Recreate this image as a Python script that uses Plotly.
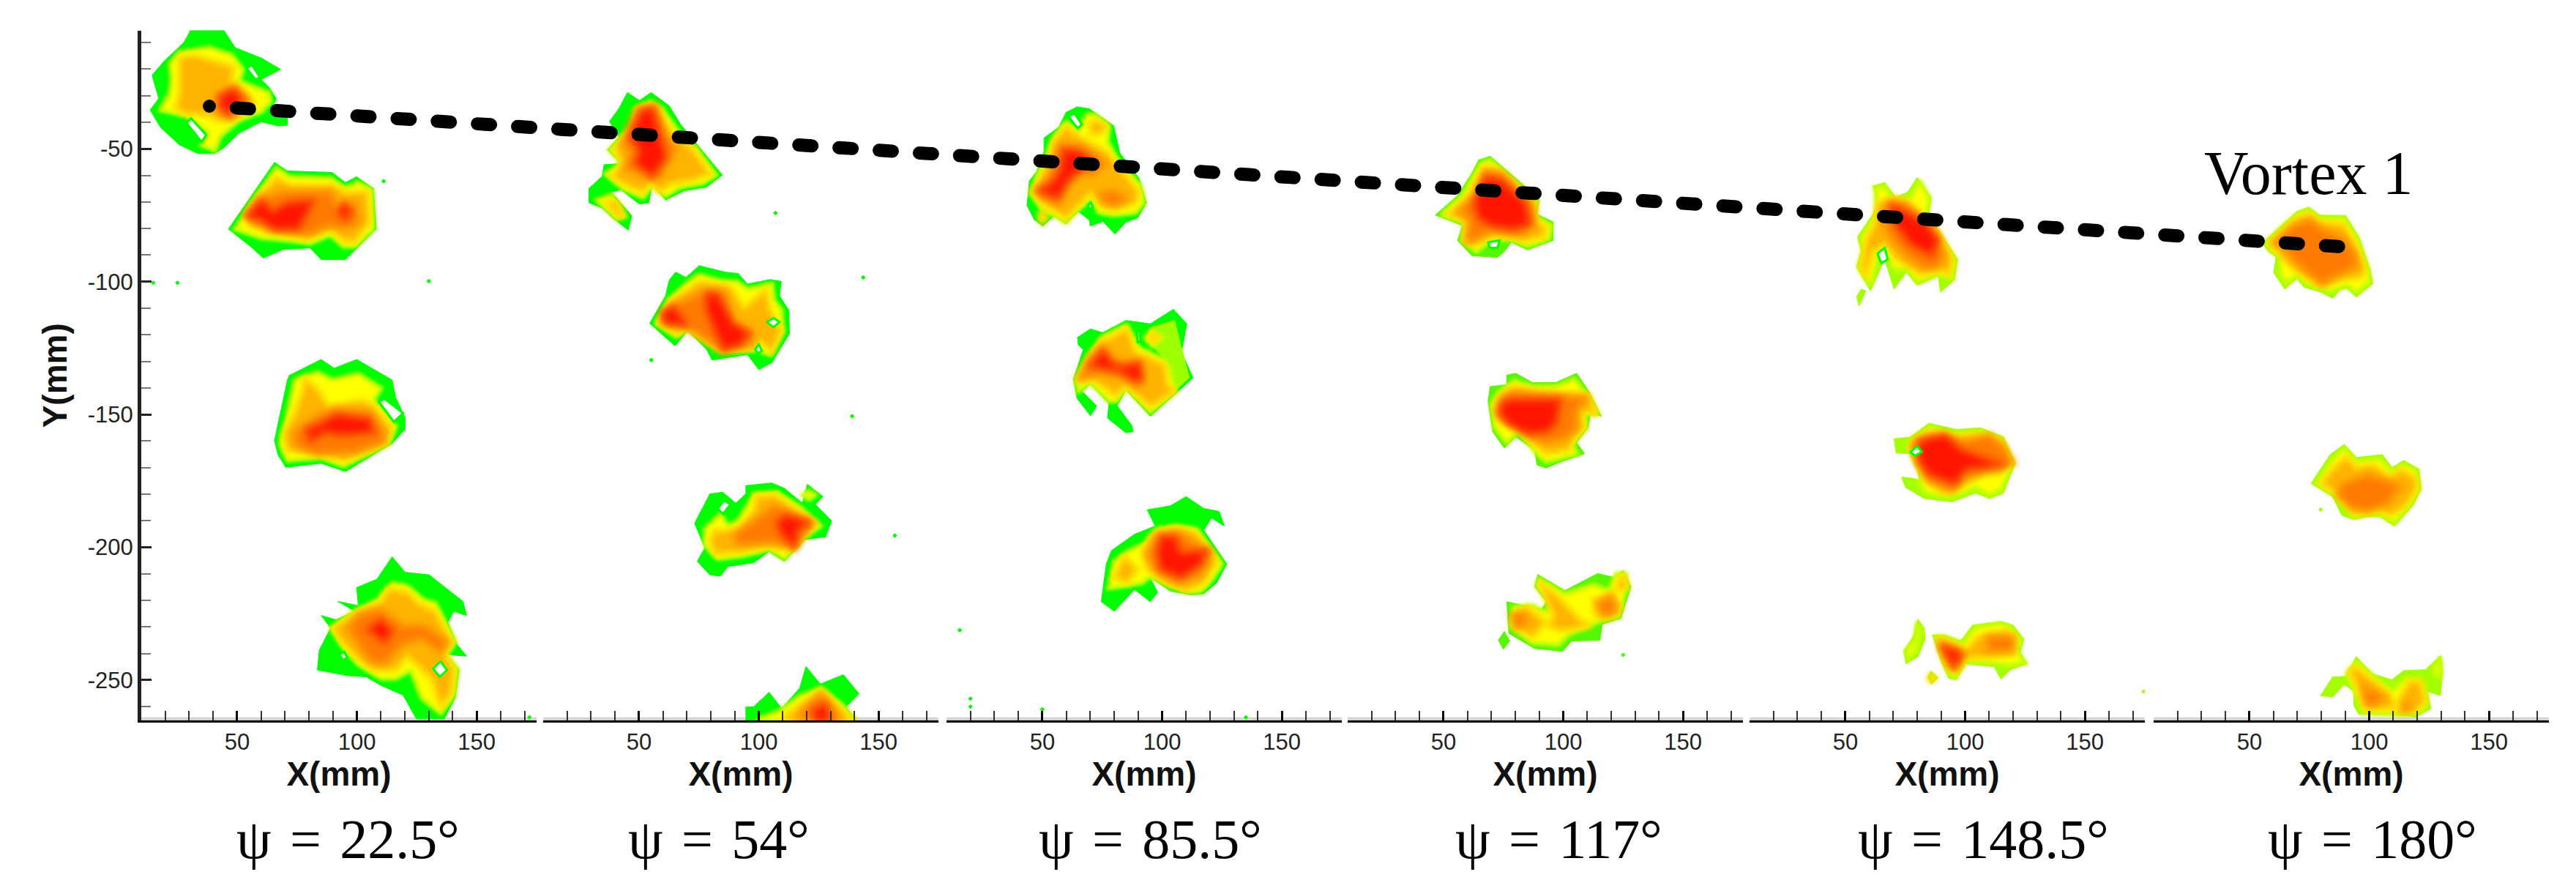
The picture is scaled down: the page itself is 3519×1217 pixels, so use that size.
import plotly.graph_objects as go

FIG_W, FIG_H = 3519, 1217

PANEL_LEFT = [193, 742, 1293, 1841, 2390, 2942]
PANEL_WIDTH = 540
PLOT_TOP, PLOT_BOTTOM = 41.5, 984.0

X_RANGE = [10, 175]
Y_RANGE = [-265.2, -5.4]
X_TICKS = [50, 100, 150]
Y_TICKS = [-50, -100, -150, -200, -250]
Y_TICK_TEXT = ["-50", "-100", "-150", "-200", "-250"]

PSI_TEXT = [
    "ψ\u2004=\u200422.5°",
    "ψ\u2004=\u200454°",
    "ψ\u2004=\u200485.5°",
    "ψ\u2004=\u2004117°",
    "ψ\u2004=\u2004148.5°",
    "ψ\u2004=\u2004180°",
]
PSI_X = [96.4, 83.3, 95.0, 98.2, 107.7, 101.3]

# vortex 1 path, read in page pixels because it crosses all six panels
TRACK_X = [286, 497, 717, 1100, 1483, 1813, 2304, 2744, 3200]
TRACK_Y = [145, 159, 173.6, 198.6, 224.6, 246, 279.5, 307.5, 337]

# contour outlines in mm, one list per panel and level
p1_outer = [
    [(29.0, -8.1), (30.5, -5.4), (44.5, -5.4), (49.2, -11.9), (60.1, -15.8), (68.2, -20.1), (60.1, -23.9), (63.2, -26.7), (66.4, -31.1), (64.0, -35.4), (71, -37.6), (71, -41.1), (67.1, -41.4), (60.1, -39.8), (50.8, -44.1), (44.5, -49.6), (40.7, -51.8), (33.6, -51.8), (25.9, -48.5), (18.1, -42), (13.7, -35.4), (17.3, -31), (14.5, -22.3), (19.6, -16.9), (27.4, -10.3)],
    [(65.6, -55.1), (71, -58.3), (89.7, -58.9), (95.2, -62.7), (99.9, -60.5), (106.9, -64.9), (108.1, -80.2), (95.2, -91.7), (85.1, -91.7), (80.4, -87.3), (69.5, -87.8), (60.9, -91.1), (55.5, -86.7), (46.4, -80.2), (53.9, -70.4), (63.2, -58.3)],
    [(71.8, -135.3), (85.1, -129.3), (90.5, -132.6), (99.9, -129.3), (114.7, -137), (116.2, -143.5), (120.1, -151.2), (120.1, -155.5), (114.7, -161), (95.2, -171.5), (85.1, -168.4), (70.3, -169.9), (67.1, -165.2), (65.6, -159.9), (71, -137)],
    [(114.7, -203.6), (120.1, -209.4), (130.2, -210.4), (144.3, -220.4), (145.8, -225.7), (140.4, -224.1), (138, -228.3), (141.9, -236.7), (145.8, -241), (137.2, -240.4), (142.7, -246.2), (141.1, -256.7), (136.5, -264.6), (124.8, -264.6), (119.3, -255.7), (110, -252), (103.8, -248.8), (96, -248.3), (83.5, -246.2), (84.3, -238.8), (89, -230.4), (85.1, -225.7), (91.3, -227.3), (99.1, -224.1), (92.1, -220.4), (100.6, -222), (99.9, -215.2), (108.4, -212)],
]
p1_yellow = [
    [(22, -18), (25.9, -13.6), (38.3, -11.9), (47.7, -14.7), (52.4, -20.1), (50.8, -24.5), (63.2, -28.9), (64, -32.1), (60.1, -36), (50.8, -39.2), (43, -45.2), (40.7, -50.7), (35.2, -48.5), (38.3, -44.1), (29, -37.6), (24.3, -36.5), (18.1, -35.4), (22, -28.9), (22.7, -23.4)],
    [(66.4, -57.3), (71.8, -60.5), (89, -61.1), (95.2, -64.9), (100.6, -62.7), (106.1, -65.4), (106.9, -80.2), (99.1, -86.7), (94.4, -86.7), (89, -82.4), (80.4, -85.6), (72.6, -84.6), (60.1, -83.5), (49.2, -80.2), (55.5, -71.4), (64, -60.5)],
    [(74.2, -137), (83.5, -134.2), (89.7, -137), (100.6, -134.8), (110, -140.2), (106.9, -144.6), (116.2, -154.4), (113.1, -161), (94.4, -169.4), (85.1, -166.3), (71, -167.3), (68, -161), (71.8, -146.8)],
    [(114.7, -213.6), (120.9, -214.6), (127.9, -219.9), (132.6, -221), (141.1, -235.7), (137.2, -240.4), (141.9, -245.7), (140.4, -255.7), (135, -262.5), (127.1, -256.7), (122.5, -246.2), (116.2, -249.4), (110, -249.4), (100.6, -244.1), (94.4, -237.8), (89.7, -230.4), (99.1, -224.1), (108.4, -219.9)],
]
p1_orange = [
    [(25.9, -15.8), (32.1, -14.7), (39.9, -16.8), (48.4, -19), (47.7, -25.6), (53.9, -28.9), (57, -33.2), (50.8, -37.6), (43, -39.8), (38.3, -37.6), (27.4, -36.5), (24.3, -34.3), (25.9, -28.9), (25.9, -22.3)],
    [(66.4, -60.5), (72.6, -63.8), (89.7, -63.8), (96, -66.5), (104.5, -66), (105.3, -77.1), (99.1, -85.1), (94.4, -84.6), (89, -80.2), (78.8, -83.5), (64.8, -81.3), (55.5, -79.1), (53.9, -74.7), (58.6, -68.2)],
    [(78.1, -136), (83.5, -140.2), (88.2, -146.8), (102.2, -144.6), (106.9, -146.8), (114.7, -155.5), (111.5, -161), (94.4, -167.3), (85.1, -163.8), (71, -163.8), (69.5, -157.7), (74.2, -149), (77.3, -141.3)],
    [(113.1, -215.7), (120.9, -216.8), (125.6, -221), (132.6, -224.1), (139.6, -235.7), (136.5, -239.9), (140.4, -246.2), (139.6, -254.6), (135, -260.4), (131.1, -249.4), (120.9, -241), (116.2, -246.2), (106.9, -246.2), (99.1, -240.9), (92.8, -234.6), (89.7, -230.4), (99.1, -225.2), (110, -220.9)],
]
p1_deep = [
    [(40.7, -30), (49.2, -26.1), (54.7, -31.6), (47.7, -38.7), (41.4, -35.4)],
    [(60.1, -68.2), (69.5, -66), (89.7, -66), (92.1, -72.5), (99.1, -69.3), (101.4, -78), (94.4, -80.2), (88.2, -79.1), (80.4, -82.4), (64.8, -80.7), (55.5, -76.9), (54.7, -74.2)],
    [(73.4, -156.6), (83.5, -150.1), (91.3, -147.9), (105.3, -149), (111.5, -156.6), (111.5, -160.4), (99.1, -164.3), (83.5, -165.1), (74.2, -162.1)],
    [(100.6, -225.2), (110, -223), (119.3, -229.4), (128.7, -229.4), (138, -235.7), (134.9, -239.9), (127.1, -234.6), (119.3, -236.7), (111.5, -244.1), (105.3, -243), (100.6, -236.7), (96, -230.4)],
]
p1_red = [
    [(43, -30), (48.4, -27.8), (52.4, -31.6), (46.1, -37), (43, -34.3)],
    [(60.1, -69.3), (64.8, -73.6), (71, -70.4), (82, -69.3), (75.7, -80.2), (65.6, -80.2), (60.1, -76.9), (53.9, -75.3)],
    [(94.4, -70.4), (97.5, -73.6), (95.2, -76.4), (92.1, -73.6)],
    [(84, -154), (91.3, -150.1), (105.3, -151.7), (106.9, -156.6), (94.4, -157.7), (86.6, -156.6), (80.4, -160), (79, -155.5)],
    [(110, -227.3), (114.7, -231.5), (111.5, -235.7), (106.9, -232.5), (104.5, -231)],
]
p1_holes = [
    [(29, -40.3), (30.8, -38.5), (37.1, -44.8), (35.2, -47.4)],
    [(53.9, -19.6), (56.2, -18.5), (59.4, -22.9), (57.8, -24)],
    [(109.2, -145.2), (111.5, -144.1), (119.3, -149.5), (115.4, -152.8)],
    [(131.8, -245.7), (134.9, -243), (137.6, -246.2), (134.6, -248.8)],
    [(92.9, -240.4), (94.7, -239.4), (96, -241.5), (94.1, -242.5)],
]
p1_specks_x = [15, 25.1, 130, 111.2, 172]
p1_specks_y = [-100.4, -100.4, -99.8, -62.2, -264]

p2_outer = [
    [(45.2, -28.8), (50.2, -31.8), (55.1, -28.8), (62.6, -33.8), (67.3, -40.7), (84.8, -59.9), (78.2, -64.4), (68.9, -65.8), (61.1, -69.3), (55.6, -63.4), (54.1, -70.3), (50.2, -70.8), (42.4, -65.4), (38.5, -66.3), (47, -75.2), (45.5, -80.6), (39.2, -76.2), (34.6, -72.3), (29.1, -70.3), (29.1, -64.9), (34.6, -60.4), (35.4, -56), (42.4, -55.5), (36.9, -50.4), (41.6, -45.6), (37.7, -39.7), (41.6, -34.8)],
    [(75.1, -94), (86, -96.4), (91.4, -96.9), (95.3, -100.9), (104.7, -99.2), (109.4, -99.9), (108.6, -105.3), (112.5, -110.7), (112.8, -119.6), (105.5, -130.5), (100, -133.1), (95.3, -127.5), (80.5, -129.5), (78.2, -125.5), (70.4, -118.6), (65, -124.2), (54.5, -115.7), (61.1, -105.3), (62.6, -99.4), (65.3, -96.4), (69.6, -98.4)],
    [(94.6, -176.8), (105.4, -175.8), (110.7, -177.8), (118.2, -183.4), (120.3, -176.3), (126.8, -180.9), (123.6, -183.9), (130.4, -190), (127.9, -196.1), (119.3, -197.1), (110.7, -205.3), (104.3, -201.7), (97.9, -205.8), (87.1, -207.3), (84, -210.9), (79.6, -210.4), (74.3, -205.3), (77.5, -200.2), (73.2, -191), (79.6, -179.9), (85, -179.3), (90.4, -183.4), (94.6, -179.9)],
    [(94.6, -260.2), (97.9, -260), (104.3, -254.6), (109.6, -260.7), (117.1, -253), (119.7, -244.9), (125.7, -251.5), (135.3, -248), (141.8, -255.1), (136.4, -260.2), (141.1, -265.4), (94.6, -265.4)],
]
p2_yellow = [
    [(48.6, -34.8), (54.8, -32.3), (59.5, -34.8), (65.7, -42.7), (73.5, -49.6), (82.1, -59.9), (76.6, -62.9), (67.3, -64.4), (61.1, -67.8), (55.6, -63.4), (51.7, -68.3), (44, -65.4), (36.1, -59.4), (43.1, -55.5), (37.7, -50.5), (42.4, -45.6), (47, -41.7)],
    [(32.2, -69.3), (38.5, -67.3), (43.9, -75.2), (40.8, -76.2)],
    [(75.1, -97.4), (84.4, -99.9), (90.7, -99.9), (95.3, -102.8), (105.5, -100.9), (106.2, -106.8), (109.4, -110.7), (110.1, -118.6), (104.7, -127.5), (98.4, -125.5), (84.4, -126), (79.8, -123.6), (70.4, -117.6), (65.7, -120.6), (57.2, -115.7), (62.6, -106.8), (69.6, -100.9)],
    [(97.9, -179.9), (107.5, -179.3), (117.1, -184.9), (125.7, -192), (119.3, -196.1), (110.7, -204.3), (104.3, -200.7), (93.6, -203.2), (82.9, -204.3), (77.5, -199.2), (77.5, -193.1), (84, -187.5), (87.1, -192), (91.4, -190), (95.7, -183.9)],
    [(118.2, -180.4), (121, -178.8), (123.6, -180.4), (121, -182)],
    [(100, -264.7), (108.6, -261.7), (117.1, -256.1), (125.7, -253), (134.3, -259.1), (140.7, -265.4), (100, -265.4)],
]
p2_orange = [
    [(50.2, -34.8), (55.6, -33.8), (59.5, -38.7), (64.2, -44.6), (72, -49.6), (79.8, -59.4), (72, -61.9), (62.6, -63.4), (58.7, -66.3), (54.8, -62.4), (51.7, -66.3), (44, -63.4), (38.5, -60.4), (43.1, -55.5), (40, -50.1), (45.5, -45.6), (48.6, -40.7)],
    [(36.1, -70.3), (40.8, -69.8), (43.6, -75.2), (41.6, -75.7)],
    [(75.1, -99.9), (84.4, -100.9), (89.1, -102.8), (93.8, -109.8), (103.1, -102.8), (104.7, -110.7), (109.4, -118.6), (105.5, -126.5), (100.8, -122.6), (96.9, -125.5), (84.4, -126), (70.4, -117.6), (65.7, -119.6), (58.7, -115.7), (62.6, -107.8), (70.4, -102.8)],
    [(98.9, -180.9), (106.4, -180.4), (123.6, -191), (117.1, -196.1), (113.9, -200.7), (104.3, -199.7), (91.4, -201.7), (81.8, -202.7), (79.6, -197.1), (81.8, -193.6), (91.4, -193.6), (97.9, -185.9)],
    [(110.7, -263.7), (117.1, -259.2), (126.8, -254.1), (132.1, -259.2), (139.6, -265.4), (108.6, -265.4)],
]
p2_deep = [
    [(49.4, -34.8), (57.2, -33.8), (61.1, -44.6), (65.7, -49.6), (59.5, -60.4), (54.8, -61.4), (43.9, -57.5), (46.3, -50.6), (42.4, -48.6)],
    [(64.2, -108.8), (76.6, -103.8), (86, -103.8), (89.1, -114.7), (96.9, -118.6), (96.9, -123.6), (85.2, -126), (75.9, -120.6), (65.7, -114.7), (59.5, -114.7)],
    [(106.4, -183.9), (122.5, -191), (115, -200.2), (104.3, -198.2), (91.4, -199.2), (89.3, -195.1), (97.9, -190)],
    [(119.3, -260.2), (125.7, -255.1), (131, -260.2), (134.3, -265.4), (116.1, -265.4)],
]
p2_red = [
    [(51, -35.8), (55.6, -34.8), (58.7, -44.6), (61.1, -53), (55.6, -60.4), (48.6, -55.5), (50.2, -50.6), (46.3, -45.6)],
    [(78.2, -104.3), (82.9, -104.8), (89.1, -115.7), (96.1, -119.6), (92.2, -123.6), (85.2, -125.5), (81.3, -117.6), (78.2, -110.7)],
    [(59.5, -111.7), (64.2, -109.3), (70.4, -116.6), (61.1, -115.7)],
    [(110.7, -188), (121.4, -190.5), (116.1, -193.6), (115, -200.2), (109.6, -195.1), (107.5, -191)],
    [(122.5, -261.2), (127.8, -259.2), (130, -265.4), (123.6, -265.4)],
]
p2_holes = [
    [(103.4, -115.2), (106.2, -113.7), (108.6, -115.2), (106.2, -117.2)],
    [(98.4, -125.5), (100, -123.6), (101.3, -126), (99.7, -127)],
    [(82.9, -185.4), (85.4, -182.4), (88.2, -183.9), (85, -187.5)],
]
p2_specks_x = [107, 143.6, 139, 55.1, 156.8]
p2_specks_y = [-74.2, -98.4, -150.7, -129.5, -195.6]

p3_outer = [
    [(59.9, -36.3), (64.5, -34.2), (69.6, -34.9), (79.8, -41.3), (82.3, -51.5), (90.4, -61.1), (93.5, -70.4), (89.9, -75.9), (84.8, -77.7), (80.3, -82.1), (75.2, -77.3), (70.1, -79.1), (69.6, -76.8), (65, -73.6), (59.9, -78.2), (54.8, -75.4), (50.2, -79.1), (46.7, -76.8), (43.6, -71.3), (44.6, -62.1), (47.7, -58.4), (50.7, -51), (50.7, -45.9), (56.9, -41.8)],
    [(64.7, -121), (70.1, -117.8), (75.2, -119.2), (84.9, -114.6), (95.1, -115.9), (104.7, -110.4), (110.3, -115.9), (108.1, -126.5), (112.9, -136.2), (106.3, -141.7), (95.1, -150.7), (84.9, -140.8), (81.3, -146.8), (87.4, -154.2), (87.9, -156.5), (84.9, -156.9), (77.2, -151.4), (77.8, -145.9), (70.1, -138.5), (66.6, -141.3), (72.7, -146.8), (70.1, -150.5), (64.5, -144), (63, -136.7), (67.1, -125.6), (65, -123.8)],
    [(93.8, -185.9), (103.5, -184.4), (110, -180.9), (117.4, -185.4), (123.8, -186.5), (126, -192), (120.6, -189), (117.4, -193.6), (127, -206.3), (122.8, -213.4), (117.4, -217.5), (112.1, -218), (103.5, -216.5), (95, -211.4), (98.1, -217), (95, -220.5), (88.5, -215.9), (80, -224.1), (74.6, -220.5), (76.7, -206.3), (78.9, -201.2), (88.5, -195.1), (97.1, -192)],
]
p3_lime = [
    [(93, -121.7), (95.1, -117.3), (105.2, -114.6), (108.3, -125.6), (111.3, -136.2), (105.2, -141.3), (101.2, -129.3)],
]
p3_yellow = [
    [(59.9, -40), (65, -43.2), (68.6, -37.2), (72.1, -37.2), (77.7, -41.3), (77.2, -47.3), (81.8, -54.7), (91, -63.9), (92.5, -70.4), (88.9, -74), (79.8, -75), (73.6, -74), (70.6, -68.5), (64.5, -73.1), (59.9, -77.7), (54.8, -75), (50.2, -73.1), (45.1, -66.7), (48.2, -59.3), (51.8, -52.9), (54.3, -46.4)],
    [(74.7, -121), (84.9, -116.4), (90, -124.7), (101.2, -129.7), (103.2, -133), (105.2, -141.3), (95.1, -149.1), (84.9, -139.9), (80.8, -145), (77.8, -145), (70.1, -138), (65, -141.3), (64, -136.7), (69.1, -128.4)],
    [(93, -121), (95.6, -118.7), (100.1, -121), (96.1, -124.2)],
    [(98.1, -193.1), (105.6, -192), (114.2, -193.1), (124.9, -206.3), (120.6, -212.4), (116.3, -216.5), (112.1, -217), (103.5, -214.4), (95, -210.9), (91.7, -213.4), (85.3, -214.4), (77.8, -215.4), (80, -205.3), (86.4, -201.2), (93.8, -198.2)],
]
p3_orange = [
    [(59.9, -41.3), (65.5, -45.5), (76.7, -51), (82.8, -57.5), (90.4, -66.2), (88.9, -70.4), (80.8, -72.7), (74.7, -71.3), (70.1, -66.7), (63.5, -72.7), (59.9, -76.3), (55.3, -73.1), (50.2, -70.4), (46.2, -66.2), (49.7, -60.2), (53.3, -54.7), (54.8, -47.3)],
    [(69.6, -41.3), (71.6, -39), (76.7, -41.3), (74.7, -44.1), (70.6, -44.6)],
    [(48.7, -75.9), (49.9, -73.1), (51.8, -75.9), (49.9, -77.7)],
    [(74.7, -122.8), (85.4, -117.8), (89, -126.5), (101.2, -131.1), (102.2, -138.5), (105.2, -141.3), (95.1, -147.2), (84.9, -139), (80.8, -143.1), (70.6, -136.7), (65, -137.1), (69.1, -129.3)],
    [(94.6, -121), (96.1, -119.6), (98.6, -121.2), (96.1, -122.8)],
    [(96, -195.1), (105.6, -192.6), (114.2, -194.6), (122.8, -205.3), (117.4, -213.4), (109.9, -216.5), (101.3, -213.4), (93.8, -208.3), (91.7, -201.2)],
    [(84.2, -203.2), (89.6, -208.3), (85.3, -213.4), (79.9, -211.4)],
]
p3_deep = [
    [(56.9, -48.2), (66.5, -48.7), (77.2, -55.6), (70.6, -60.2), (66.5, -59.3), (61.4, -63.9), (56.9, -71.3), (50.2, -68.5), (47.2, -65.7), (52.3, -61.1), (54.3, -55.6)],
    [(73.6, -66.7), (79.8, -65.7), (85.9, -68.5), (80.8, -71.3), (76.2, -70.8)],
    [(75.2, -123.8), (79.8, -129.3), (91.5, -130.2), (92, -138.5), (90, -139.9), (81.8, -135.7), (72.7, -134.8), (65, -137.1), (69.1, -129.3)],
    [(98.1, -195.1), (107.8, -194.6), (120.6, -202.2), (116.3, -210.4), (106.7, -213.4), (98.1, -209.3), (93.8, -203.2)],
]
p3_red = [
    [(58.9, -50.1), (65.5, -51), (71.6, -54.7), (66.5, -57.5), (61.4, -61.1), (56.3, -68.5), (48.2, -65.7), (53.8, -63), (57.4, -58.4)],
    [(75.2, -126.1), (79.3, -130.7), (82.8, -132), (90.5, -130.7), (91.5, -136.7), (88.4, -137.1), (82.3, -133.9), (71.6, -132), (70.1, -131.6)],
    [(99.6, -196.1), (105.6, -196.1), (107.8, -202.2), (118.5, -201.2), (116.3, -206.3), (107.8, -211.4), (99.2, -208.3), (98.1, -201.2)],
]
p3_holes = [
    [(60.9, -37.7), (63.5, -36.7), (66.5, -40.9), (64.7, -42.3)],
    [(69.1, -71.3), (70.1, -69.9), (70.9, -71.7), (69.8, -73.1)],
    [(89.5, -118.7), (90.5, -118.2), (91, -122.4), (89.8, -122.8)],
]
p3_specks_x = [15.5, 20, 50, 135, 20]
p3_specks_y = [-231.2, -257, -261, -264, -260]

p4_outer = [
    [(64.7, -54.2), (69.5, -52.8), (83.2, -63.4), (90, -69), (89, -74.6), (95.8, -77.5), (95.8, -84.5), (85.1, -88), (78.3, -85.2), (75.4, -88.7), (72.5, -90.9), (61.8, -90.2), (55.9, -84.5), (57.9, -78.9), (52, -76.8), (46.6, -74.9), (55.9, -67.6), (61.8, -59.2)],
    [(76.4, -135.2), (80.2, -134.5), (87.1, -138), (96.8, -138), (105.6, -134.5), (110.4, -140.9), (115.9, -150.7), (111.4, -149.3), (110.4, -155), (105.6, -160.6), (108.9, -164.8), (97.8, -168.3), (92.9, -170.2), (89, -169), (88, -163.4), (80.2, -158.5), (75.4, -162.7), (70.5, -156.4), (68.6, -145.1), (69.5, -139.5), (76.4, -138.8)],
    [(89.4, -210.3), (100.7, -216.3), (114.3, -209.9), (121.1, -211.3), (125, -208.8), (128.3, -214.8), (124.1, -226.8), (116.3, -229), (115.3, -235), (103.6, -235.3), (99.7, -239.2), (88, -238.1), (77.3, -232.5), (76.4, -220.5), (83.2, -221.9), (91, -223.3), (92.9, -220.5), (88, -214.8)],
    [(75.4, -231.7), (77.7, -235.3), (75, -238.4), (72.9, -235)],
]
p4_yellow = [
    [(65.6, -55.6), (69.5, -54.2), (89, -69.7), (88, -75.4), (94.9, -78.9), (93.9, -83.8), (85.1, -86.6), (78.3, -83.8), (69.5, -84.5), (63.7, -88.7), (57.9, -84.5), (58.8, -77.5), (49.1, -74.9), (57.9, -67.6)],
    [(79.3, -137.4), (87.1, -139.5), (96.8, -139.5), (104.6, -136.7), (109.5, -142.3), (114.3, -150), (108.5, -149.3), (109.5, -155), (103.6, -161.3), (105.6, -164.8), (92.9, -167.7), (89, -164.8), (81.2, -156.4), (76.4, -160.6), (71.5, -155), (70, -146.5), (72.5, -142.3)],
    [(90, -212), (100.7, -217.7), (112.4, -214.1), (119.2, -216.3), (122.1, -210), (126, -210), (126.4, -214.8), (123.1, -226), (114.3, -228.1), (102.6, -232.5), (97.8, -236.7), (87.1, -236), (78.3, -229.7), (79.3, -222.6), (87.1, -221.9), (92.9, -224.7), (95.8, -221.2), (89, -214.8)],
]
p4_orange = [
    [(66.6, -57), (72.5, -57.7), (88, -70.4), (88, -76.8), (92.9, -79.6), (91.9, -83.1), (84.1, -84.5), (71.5, -82.4), (63.7, -85.9), (58.8, -84.5), (59.8, -77.5), (52, -74.6), (60.8, -67.6)],
    [(79.3, -139.5), (89, -141.6), (110.4, -142.3), (114.3, -150), (107.5, -148.6), (108.5, -155), (103.6, -159.9), (102.6, -163.4), (92.9, -164.8), (89, -162), (82.2, -155), (75.4, -152.1), (72.5, -150.7), (71.5, -146.5), (74.4, -142.3)],
    [(90, -213.4), (96.8, -217.7), (106.5, -226.8), (111.4, -229.7), (102.6, -231), (96.8, -231), (93.9, -229.7), (95.8, -225.4), (92.9, -219.8)],
    [(112.4, -219.8), (120.2, -217), (124.1, -222.6), (121.1, -226), (113.3, -226)],
    [(122.1, -214.8), (125, -210), (127, -214.8), (124.1, -216.2)],
    [(79.3, -225.4), (85.1, -222.6), (92.9, -228.2), (87.1, -233.9), (79.3, -229.7)],
]
p4_deep = [
    [(67.6, -58.4), (74.4, -59.2), (87.1, -71.1), (88, -78.2), (83.2, -82.4), (69.5, -81), (62.7, -84.5), (59.8, -85.2), (60.8, -76.1), (55.9, -73.9), (63.7, -66.9)],
    [(79.3, -141.6), (110.4, -143.7), (105.6, -148.6), (105.6, -155), (100.7, -159.2), (92.9, -160.6), (87.1, -159.2), (81.2, -155), (74.4, -152.1), (72.5, -149.3), (74.4, -143.7)],
    [(114.3, -221.2), (120.2, -218.4), (122.1, -224), (117.2, -226)],
    [(78.3, -225.4), (83.2, -224.7), (85.1, -228.2), (80.3, -230.4)],
]
p4_red = [
    [(67.6, -60.6), (74.4, -62), (84.1, -70.4), (86.1, -78.2), (79.3, -80.3), (69.5, -78.9), (64.7, -76.1), (62.7, -70.4)],
    [(78.3, -144.4), (98.7, -144.4), (96.8, -153.6), (92.9, -156.4), (85.1, -157.1), (77.3, -153.6), (73.4, -149.3), (74.4, -145.8)],
]
p4_holes = [
    [(68.6, -85.2), (73.4, -84.5), (72.5, -87.3), (69.5, -87.3)],
]
p4_specks_x = [125]
p4_specks_y = [-240.5]

p5_outer = [
    [(61.5, -64), (66.4, -62.7), (71.2, -68.3), (76.1, -66.2), (80, -60.8), (85.8, -68.3), (84.9, -74.6), (90.7, -83.1), (96.9, -91.6), (95.6, -99.3), (89.7, -104), (88.8, -97.9), (80, -101.4), (75.5, -96.5), (70.3, -102.8), (66.4, -91.6), (60.5, -103.5), (54.7, -94.4), (56.6, -88.7), (55.1, -83.1), (61.5, -74.6), (63.4, -69.7)],
    [(56.6, -102.8), (58.6, -103.5), (55.7, -109.2), (54.7, -105.6)],
    [(70.3, -159.2), (77.1, -158.5), (84.9, -153.3), (96.5, -155.7), (106.3, -155), (116, -158.5), (120.9, -168.3), (116, -179.6), (110.2, -181.7), (104.3, -179.6), (94.6, -182.9), (83, -181.7), (75.1, -177.5), (73.5, -173.6), (78, -174), (80.9, -174.7), (80, -170.5), (77.1, -164.8), (71.2, -164.5)],
    [(86.3, -233.1), (91.2, -233.1), (98.2, -235.2), (103.1, -229.3), (115, -228), (120, -229.3), (124.5, -234.7), (123, -239.6), (125.9, -243.9), (119, -246.1), (115, -249.7), (112.1, -245), (100.1, -243.9), (96.2, -249.9), (93.2, -249.4), (90.2, -243.4)],
    [(80.3, -227.1), (82.9, -230.4), (83.3, -234.7), (80.3, -241.2), (75.3, -243.9), (74.4, -239), (78.3, -233.6)],
    [(85.7, -246.7), (88.8, -249.1), (85.9, -251.6), (84.3, -248.8)],
]
p5_yellow = [
    [(62.5, -64.8), (66.4, -64.1), (69.3, -69), (77.1, -68.3), (81, -62), (84.9, -68.3), (83.9, -75.4), (90.7, -84.5), (95.6, -91.6), (94.6, -98.6), (88.8, -97.2), (80, -100), (75.5, -94.4), (71.2, -95.8), (67.3, -90.2), (64.4, -87.3), (60.5, -101.4), (55.6, -94.4), (57.6, -88.7), (56.6, -83.1), (63.4, -74.6)],
    [(78, -159.2), (84.9, -155), (96.5, -157.1), (106.3, -156.4), (115, -159.2), (119.9, -168.3), (115, -178.2), (110.2, -180.3), (104.3, -177.5), (94.6, -181), (83.9, -179.6), (81, -176.1), (82, -173.3), (80, -169), (76.1, -162)],
    [(88.2, -233.6), (91.2, -233.6), (99.2, -236.3), (104.1, -230.4), (115, -228.7), (120, -230.9), (123, -234.7), (122, -239.6), (124.9, -243.4), (118, -244.5), (112.1, -243.4), (100.1, -242.9), (96.2, -248.8), (93.2, -247.7), (91.2, -242.9)],
    [(79.9, -228.7), (81.7, -232.5), (79.3, -239), (76.3, -241.8), (75.3, -239), (79.3, -234.7)],
]
p5_orange = [
    [(63.4, -70.4), (71.2, -68.3), (79, -72.5), (88.8, -81.7), (94.6, -91.6), (93.6, -97.2), (89.7, -95.8), (81, -97.2), (71.2, -91.6), (66.4, -85.9), (61.5, -88.7), (58.6, -98.6), (56.6, -94.4), (58.6, -84.5), (62.5, -77.5)],
    [(79, -159.2), (84.9, -156.4), (96.5, -158.5), (107.3, -157.8), (115, -160), (119.5, -168.3), (114.1, -172.6), (108.2, -171.9), (96.5, -178.2), (90.7, -179.6), (83.9, -175.4), (80, -167.7), (77.1, -162)],
    [(88.8, -234.7), (93.2, -235.8), (100.1, -239), (105.1, -233.6), (117, -231.4), (121, -234.7), (120, -240.1), (113, -241.2), (100.1, -241.8), (96.2, -246.7), (93.2, -245.6), (90.2, -239.6)],
    [(85.7, -248), (87.3, -249.1), (85.7, -250.3), (84.9, -249.1)],
]
p5_deep = [
    [(67.3, -70.4), (75.1, -70.4), (86.8, -80.3), (91.7, -90.2), (88.8, -94.4), (83, -95.1), (75.1, -90.2), (68.3, -83.1), (65.4, -77.5)],
    [(80, -160), (88.8, -157.8), (99.5, -160), (110.2, -157.8), (116, -162), (119.9, -168.3), (110.2, -171.1), (99.5, -174), (94.6, -178.9), (84.9, -174.7), (80, -167.7), (78, -162)],
    [(89.6, -235.8), (95.2, -238), (100.1, -239.6), (96.2, -245.6), (93.2, -243.9), (91.2, -240.1)],
    [(109.1, -233.6), (120, -233.6), (120, -239), (109.1, -239)],
]
p5_red = [
    [(69.3, -71.1), (75.1, -73.9), (83, -77.5), (88.8, -84.5), (85.8, -90.2), (77.1, -85.9), (71.2, -78.9)],
    [(81, -160), (91.7, -157.8), (98.5, -163.4), (110.2, -166.9), (116, -169), (100.5, -170.5), (95.6, -176.1), (84.9, -172.6), (81, -167.7)],
    [(90.2, -237.4), (96.2, -239), (98.2, -240.7), (95.2, -245), (92.8, -241.2)],
]
p5_holes = [
    [(63.4, -89.4), (66.4, -87.3), (67.7, -91.6), (65, -93)],
    [(77.1, -164.1), (80, -162), (81.9, -164.1), (79, -165.5)],
]
p5_specks_x = [174.5]
p5_specks_y = [-254.3]

p6_outer = [
    [(55.5, -85.5), (64.7, -77.7), (69.8, -73.6), (74.8, -72), (79.4, -75), (90.1, -75.1), (95.7, -83.2), (100.3, -95.2), (101.6, -100.7), (94.7, -105.8), (90.6, -102.6), (88.1, -103), (84.7, -106.3), (79.9, -104), (72.8, -102.1), (69.8, -98.9), (64.7, -102.8), (60.1, -96.6), (61.1, -90.6), (58.1, -88.8)],
    [(89.6, -161.3), (94.6, -166.2), (105.5, -165.1), (109.5, -170), (114.4, -167.3), (120.8, -170.6), (121.8, -178.2), (118.4, -184.2), (110.5, -192.1), (104.5, -188.5), (99.5, -188.5), (93.6, -189.6), (88.6, -188), (84.7, -180.9), (75.7, -176), (83.7, -165.1)],
    [(94.6, -241.2), (101.5, -247.7), (109.5, -249.9), (114.4, -246.4), (123.4, -246.1), (129.9, -240.7), (130.7, -246.7), (129.7, -255.9), (124.3, -254.3), (125.7, -260.8), (119.4, -264), (109.5, -262.9), (105.5, -262.9), (95.6, -262.9), (93.6, -259.7), (93.6, -254.3), (89.6, -251.6), (84.7, -256.4), (79.7, -255.9), (84.7, -248.8), (90.2, -248.6)],
]
p6_yellow = [
    [(56.5, -85.5), (64.7, -78.6), (70.3, -74.5), (74.8, -73.1), (79.4, -76.3), (89.6, -76.3), (95.2, -84.2), (99.3, -95.2), (100.3, -99.8), (94.7, -104), (90.6, -101.2), (84, -103.5), (73.8, -100.7), (69.8, -97.5), (65.2, -100.7), (62.6, -96.1), (63.1, -90.6), (59.6, -88.8)],
    [(89.6, -163), (94.6, -167.9), (104.5, -166.8), (109.5, -171.7), (114.4, -168.9), (119.4, -171.1), (120.4, -178.2), (116.4, -184.2), (110.5, -190.7), (104.5, -187.4), (99.5, -187.4), (93.6, -188.5), (85.7, -180.4), (78.1, -176), (84.7, -166.8)],
    [(94.6, -243.4), (109.5, -254.3), (115.4, -249.4), (121.4, -249.9), (124.3, -257.5), (122.4, -261.3), (113.4, -263), (97.6, -262.4), (94.6, -255.4), (90.7, -247.7)],
    [(127.3, -244.5), (129.7, -241.8), (129.7, -248.8), (127.3, -247.8)],
]
p6_orange = [
    [(59.1, -85.5), (65.7, -79.6), (70.8, -75.9), (75.4, -74.5), (79.4, -77.7), (89.1, -78.2), (94.2, -86), (98.3, -95.2), (97.2, -98), (86, -99.8), (79.9, -101.7), (74.8, -98.9), (69.8, -96.1), (64.7, -92.4), (60.6, -87.8)],
    [(90.7, -165.7), (94.6, -170), (101.5, -168.9), (108.5, -173.3), (113.4, -170.6), (119.4, -173.8), (119.8, -178.2), (114.4, -185.2), (108.5, -188), (103.5, -185.8), (99.5, -186.9), (93.6, -187.4), (86.6, -179.8), (79.7, -176), (85.6, -169.5)],
    [(94.6, -245), (108.5, -255.4), (111.4, -260.8), (98.5, -260.8), (94.6, -252.1), (91.6, -246.7)],
    [(116.4, -250.5), (121.4, -250.5), (123.4, -258.6), (117.4, -261.9), (112.4, -257.5)],
]
p6_deep = [
    [(59.6, -85.5), (68.7, -78.6), (75.4, -76.8), (81, -80.5), (89.1, -83.2), (94.2, -89.7), (95.2, -94.3), (86, -98), (80.4, -101.2), (75.9, -98), (69.8, -93.4), (63.6, -86.9)],
    [(88.6, -176), (99.6, -172.7), (107.5, -174.9), (113.4, -177.1), (107.5, -183.6), (99.5, -186.3), (92.6, -185.2), (86.6, -180.4)],
    [(97.6, -252.1), (106.5, -256.4), (101.5, -259.7), (98.5, -258.6)],
    [(114.4, -258.1), (118.4, -260.8), (113.4, -261.9)],
]
p6_specks_x = [79.7]
p6_specks_y = [-185.8]

OUTER_COLORS = ["#00ff00", "#00ff00", "#00ff00", "#55f800", "#a4ff00", "#a4ff00"]

panel_levels = [
    [("outer", p1_outer), ("yellow", p1_yellow), ("orange", p1_orange), ("deep", p1_deep), ("red", p1_red), ("hole", p1_holes)],
    [("outer", p2_outer), ("yellow", p2_yellow), ("orange", p2_orange), ("deep", p2_deep), ("red", p2_red), ("hole", p2_holes)],
    [("outer", p3_outer), ("lime", p3_lime), ("yellow", p3_yellow), ("orange", p3_orange), ("deep", p3_deep), ("red", p3_red), ("hole", p3_holes)],
    [("outer", p4_outer), ("yellow", p4_yellow), ("orange", p4_orange), ("deep", p4_deep), ("red", p4_red), ("hole", p4_holes)],
    [("outer", p5_outer), ("yellow", p5_yellow), ("orange", p5_orange), ("deep", p5_deep), ("red", p5_red), ("hole", p5_holes)],
    [("outer", p6_outer), ("yellow", p6_yellow), ("orange", p6_orange), ("deep", p6_deep)],
]
panel_specks = [
    (p1_specks_x, p1_specks_y),
    (p2_specks_x, p2_specks_y),
    (p3_specks_x, p3_specks_y),
    (p4_specks_x, p4_specks_y),
    (p5_specks_x, p5_specks_y),
    (p6_specks_x, p6_specks_y),
]

# fill colour, soft edge colour, edge width
LEVEL_STYLE = {
    "lime": ("#9dff00", "#9dff00", 1),
    "yellow": ("#ffff00", "#c8ff00", 6),
    "orange": ("#ffb400", "#ffdc00", 7),
    "deep": ("#ff7a00", "#ff9a00", 7),
    "red": ("#ff1400", "#ff4800", 7),
    "hole": ("#ffffff", "#00ff00", 3),
}

TICK_FONT = dict(family="Liberation Sans", size=31, color="#222222")
TITLE_FONT = dict(family="Liberation Sans", size=46, color="#111111", weight=700)
SERIF = "Liberation Serif"


def polygons_to_xy(polygons):
    xs, ys = [], []
    for polygon in polygons:
        xs += [p[0] for p in polygon] + [polygon[0][0], None]
        ys += [p[1] for p in polygon] + [polygon[0][1], None]
    return xs, ys


def axis_name(i):
    return "x" if i == 0 else f"x{i + 1}"


def add_panel(fig, i):
    for level, polygons in panel_levels[i]:
        if level == "outer":
            fill, edge, width = OUTER_COLORS[i], OUTER_COLORS[i], 1
        else:
            fill, edge, width = LEVEL_STYLE[level]
        xs, ys = polygons_to_xy(polygons)
        fig.add_trace(
            go.Scatter(
                x=xs,
                y=ys,
                xaxis=axis_name(i),
                yaxis="y",
                mode="lines",
                fill="toself",
                fillcolor=fill,
                line=dict(color=edge, width=width),
                hoverinfo="skip",
                showlegend=False,
            )
        )
    speck_x, speck_y = panel_specks[i]
    fig.add_trace(
        go.Scatter(
            x=speck_x,
            y=speck_y,
            xaxis=axis_name(i),
            yaxis="y",
            mode="markers",
            marker=dict(color=OUTER_COLORS[i], size=5, symbol="diamond"),
            hoverinfo="skip",
            showlegend=False,
        )
    )


fig = go.Figure()
layout_axes = {}

for i, left in enumerate(PANEL_LEFT):
    add_panel(fig, i)
    key = "xaxis" if i == 0 else f"xaxis{i + 1}"
    layout_axes[key] = dict(
        domain=[left / FIG_W, (left + PANEL_WIDTH) / FIG_W],
        range=X_RANGE,
        anchor="y",
        showgrid=False,
        zeroline=False,
        showline=True,
        linecolor="black",
        linewidth=3,
        ticks="inside",
        ticklen=13,
        tickwidth=3,
        tickcolor="black",
        tickmode="array",
        tickvals=X_TICKS,
        tickfont=TICK_FONT,
        minor=dict(ticks="inside", ticklen=13, tickwidth=1.5, tickcolor="#333333", dtick=10, tick0=0),
        title=dict(text="X(mm)", font=TITLE_FONT, standoff=9),
    )
    fig.add_shape(
        type="rect",
        xref=axis_name(i),
        yref="y",
        x0=X_RANGE[0],
        x1=X_RANGE[1],
        y0=Y_RANGE[0],
        y1=Y_RANGE[0] + 1.2,
        fillcolor="#d4d4d4",
        line_width=0,
        layer="below",
    )
    fig.add_annotation(
        text=PSI_TEXT[i],
        xref=axis_name(i),
        x=PSI_X[i],
        xanchor="center",
        yref="paper",
        y=1 - 1146 / FIG_H,
        yanchor="middle",
        showarrow=False,
        font=dict(family=SERIF, size=76, color="black"),
    )

# hidden page-wide axes for the trajectory that runs across the panels
fig.add_trace(
    go.Scatter(
        x=TRACK_X,
        y=TRACK_Y,
        xaxis="x7",
        yaxis="y2",
        mode="lines",
        line=dict(color="black", width=18, dash="0px,37px," + ",".join(["18px,37px"] * 60)),
        hoverinfo="skip",
        showlegend=False,
    )
)

fig.add_annotation(
    text="Vortex 1",
    xref="x7",
    yref="y2",
    x=3153,
    y=236,
    showarrow=False,
    font=dict(family=SERIF, size=84, color="black"),
)

fig.update_layout(
    width=FIG_W,
    height=FIG_H,
    margin=dict(l=0, r=0, t=0, b=0),
    autosize=False,
    paper_bgcolor="white",
    plot_bgcolor="rgba(0,0,0,0)",
    showlegend=False,
    yaxis=dict(
        domain=[1 - PLOT_BOTTOM / FIG_H, 1 - PLOT_TOP / FIG_H],
        range=Y_RANGE,
        anchor="x",
        showgrid=False,
        zeroline=False,
        showline=True,
        linecolor="#222222",
        linewidth=5,
        ticks="inside",
        ticklen=14,
        tickwidth=3,
        tickcolor="#222222",
        tickmode="array",
        tickvals=Y_TICKS,
        ticktext=Y_TICK_TEXT,
        tickfont=TICK_FONT,
        minor=dict(ticks="inside", ticklen=13, tickwidth=1.5, tickcolor="#777777", dtick=10, tick0=0),
        title=dict(text="Y(mm)", font=TITLE_FONT, standoff=15),
    ),
    xaxis7=dict(domain=[0, 1], range=[0, FIG_W], visible=False, anchor="y2"),
    yaxis2=dict(domain=[0, 1], range=[FIG_H, 0], visible=False, anchor="x7"),
    **layout_axes,
)

# round dash caps, and soften the inner contour bands so they read as a gradient
POST_SCRIPT = """
document.body.style.margin = '0';
document.querySelectorAll('path.js-line').forEach(function (p) {
    p.style.strokeLinecap = 'round';
});
var blurByFill = {
    'rgb(255, 255, 0)': '2px',
    'rgb(255, 180, 0)': '3px',
    'rgb(255, 122, 0)': '4px',
    'rgb(255, 20, 0)': '4px'
};
document.querySelectorAll('path.js-fill').forEach(function (p) {
    var radius = blurByFill[p.style.fill];
    if (radius) {
        p.closest('.trace').style.filter = 'blur(' + radius + ')';
    }
});
"""

fig.write_html("out.html", post_script=POST_SCRIPT, config={"displayModeBar": False})
